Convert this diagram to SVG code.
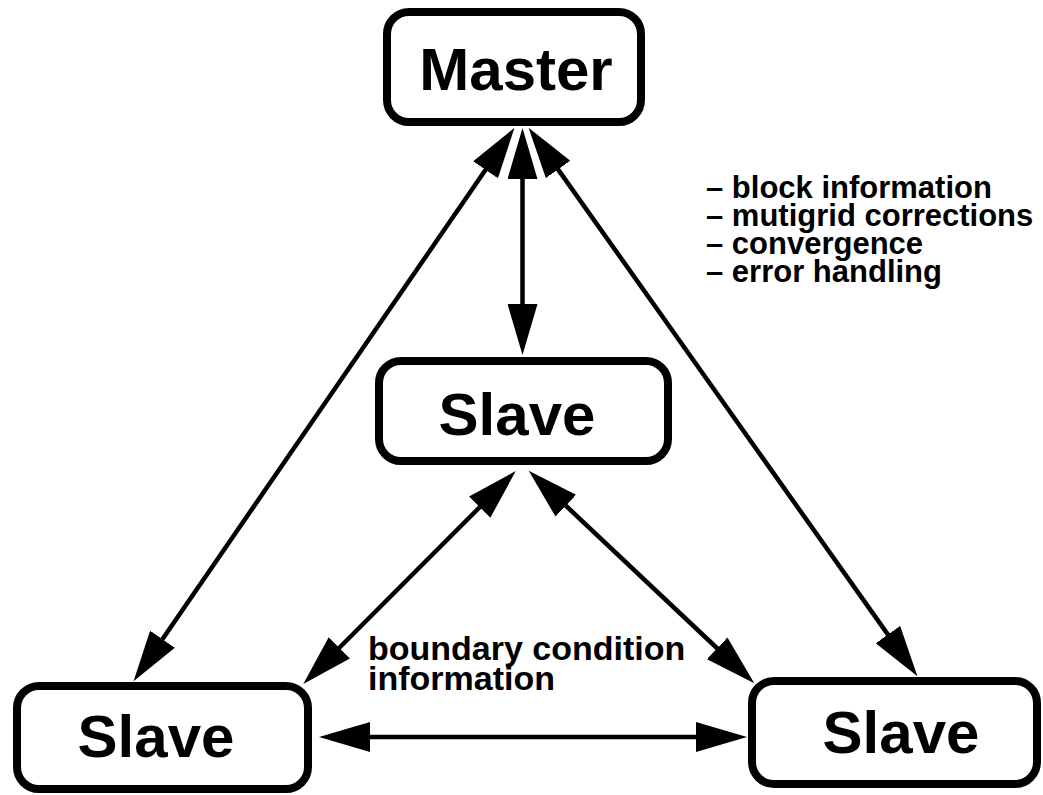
<svg xmlns="http://www.w3.org/2000/svg" width="1043" height="795" viewBox="0 0 1043 795">
<style>
.box{fill:#fff;stroke:#000;stroke-width:8}
.big{font-family:"Liberation Sans",Arial,sans-serif;font-weight:bold;font-size:60px;fill:#000;text-anchor:middle}
.lbl{font-family:"Liberation Sans",Arial,sans-serif;font-weight:bold;font-size:34px;fill:#000}
.lbr{font-family:"Liberation Sans",Arial,sans-serif;font-weight:bold;font-size:31px;fill:#000}
.con{fill:none;stroke:#000;stroke-width:4.5}
</style>
<defs>
<marker id="ah" markerUnits="userSpaceOnUse" markerWidth="52" markerHeight="30" refX="1" refY="15" orient="auto-start-reverse" viewBox="0 0 52 30">
<path d="M0,0 L51,15 L0,30 Z" fill="#000"/>
</marker>
</defs>
<rect width="1043" height="795" fill="#fff"/>
<g id="connectors">
<path class="con" d="M486.1,169 L161.9,640" marker-start="url(#ah)" marker-end="url(#ah)"/>
<path class="con" d="M522.5,178 L522.5,305" marker-start="url(#ah)" marker-end="url(#ah)"/>
<path class="con" d="M557.5,168.6 L888.5,635.4" marker-start="url(#ah)" marker-end="url(#ah)"/>
<path class="con" d="M480.4,506.5 L338.6,648.5" marker-start="url(#ah)" marker-end="url(#ah)"/>
<path class="con" d="M565.1,505 L717.9,649" marker-start="url(#ah)" marker-end="url(#ah)"/>
<path class="con" d="M369,737 L697,737" marker-start="url(#ah)" marker-end="url(#ah)"/>
</g>
<g id="master">
<rect class="box" x="387" y="12" width="254" height="110" rx="22"/>
<text class="big" x="516" y="90">Master</text>
</g>
<g id="slave-center">
<rect class="box" x="379" y="361" width="289" height="100" rx="22"/>
<text class="big" x="517" y="435">Slave</text>
</g>
<g id="slave-left">
<rect class="box" x="17" y="686" width="291" height="103" rx="22"/>
<text class="big" x="156" y="757">Slave</text>
</g>
<g id="slave-right">
<rect class="box" x="752" y="681" width="285" height="103" rx="22"/>
<text class="big" x="901" y="753">Slave</text>
</g>
<g id="label-master">
<text class="lbr" x="706" y="198">– block information</text>
<text class="lbr" x="706" y="226">– mutigrid corrections</text>
<text class="lbr" x="706" y="254">– convergence</text>
<text class="lbr" x="706" y="282">– error handling</text>
</g>
<g id="label-boundary">
<text class="lbl" x="368" y="660">boundary condition</text>
<text class="lbl" x="368" y="690">information</text>
</g>
</svg>
